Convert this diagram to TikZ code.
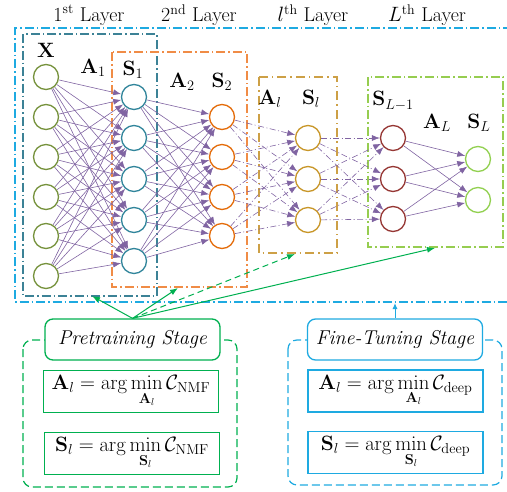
\documentclass[tikz,border=0pt]{standalone}
\usepackage{amsmath}
\usetikzlibrary{arrows.meta}
\definecolor{cX}{RGB}{118,146,60}
\definecolor{cSone}{RGB}{49,133,155}
\definecolor{cStwo}{RGB}{228,108,10}
\definecolor{cSl}{RGB}{200,150,40}
\definecolor{cSLm}{RGB}{150,55,52}
\definecolor{cSL}{RGB}{146,208,80}
\definecolor{cOuter}{RGB}{30,170,225}
\definecolor{cBoxOne}{RGB}{60,130,150}
\definecolor{cBoxTwo}{RGB}{240,140,70}
\definecolor{cBoxl}{RGB}{205,160,70}
\definecolor{cBoxL}{RGB}{150,205,80}
\definecolor{cEdge}{RGB}{128,100,162}
\definecolor{cGreen}{RGB}{0,176,80}
\definecolor{cBlue}{RGB}{30,170,225}
\begin{document}
\begin{tikzpicture}[x=1pt,y=-1pt,font=\fontsize{20}{24}\selectfont,
  neuron/.style={circle,draw,fill=white,line width=1.3pt,minimum size=25pt,inner sep=0pt},
  layerbox/.style={line width=1.2pt,dash pattern=on 9pt off 3pt on 1.5pt off 3pt},
  conn/.style={draw=cEdge,line width=0.6pt,-{Latex[length=8pt,width=6pt]}},
  dconn/.style={conn,dash pattern=on 6pt off 2.5pt on 1pt off 2.5pt},
  garrow/.style={draw=cGreen,line width=1pt,-{Latex[length=8pt,width=6pt]}},
  eqbox/.style={draw,line width=1.5pt,minimum width=175pt,minimum height=42pt,inner sep=1pt},
  stagebox/.style={draw,fill=white,rounded corners=8pt,line width=1.3pt,minimum width=175pt,minimum height=41pt,font=\fontsize{20}{24}\selectfont\itshape},
  stageframe/.style={rounded corners=9pt,line width=1.2pt,dash pattern=on 8pt off 4pt},
  lbl/.style={inner sep=0pt}]
\useasboundingbox (0,0) rectangle (507,491);
% header labels
\node[lbl] (h1) at (89,15) {1\textsuperscript{st} Layer};
\node[lbl] (h2) at (199,15) {2\textsuperscript{nd} Layer};
\node[lbl] (h3) at (313,15) {$l$\textsuperscript{th} Layer};
\node[lbl] (h4) at (427,15) {$L$\textsuperscript{th} Layer};
% boxes
\draw[layerbox,cOuter] (512,28) -- (15,28) -- (15,302) -- (512,302);
\draw[layerbox,cBoxOne] (23,34) rectangle (157,296);
\draw[layerbox,cBoxTwo] (112,52) rectangle (247,287);
\draw[layerbox,cBoxl,dash pattern=on 9pt off 4pt on 1.5pt off 4pt] (259,77) rectangle (337,253);
\draw[layerbox,cBoxL] (368,77) rectangle (503,247);
\coordinate (t1) at (92,296);
\coordinate (t2) at (178,288);
\coordinate (t3) at (295,254);
\coordinate (t4) at (435,248);
\coordinate (t5) at (395,303);
% nodes
\foreach \i/\y in {1/77,2/117,3/157,4/197,5/236,6/276}
  \node[neuron,draw=cX] (x\i) at (46,\y) {};
\foreach \i/\y in {1/97,2/138,3/179,4/220,5/261}
  \node[neuron,draw=cSone] (a\i) at (134,\y) {};
\foreach \i/\y in {1/117,2/157,3/197,4/236}
  \node[neuron,draw=cStwo] (b\i) at (222,\y) {};
\foreach \i/\y in {1/138,2/179,3/220}
  \node[neuron,draw=cSl] (c\i) at (308,\y) {};
\foreach \i/\y in {1/138,2/179,3/219}
  \node[neuron,draw=cSLm] (d\i) at (393,\y) {};
\foreach \i/\y in {1/159,2/200}
  \node[neuron,draw=cSL] (e\i) at (478,\y) {};
% connections
\foreach \i in {1,...,6} \foreach \j in {1,...,5} \draw[conn] (x\i) -- (a\j);
\foreach \i in {1,...,5} \foreach \j in {1,...,4} \draw[conn] (a\i) -- (b\j);
\foreach \i in {1,...,4} \foreach \j in {1,...,3} \draw[dconn] (b\i) -- (c\j);
\foreach \i in {1,...,3} \foreach \j in {1,...,3} \draw[dconn] (c\i) -- (d\j);
\foreach \i in {1,...,3} \foreach \j in {1,...,2} \draw[conn] (d\i) -- (e\j);
% labels
\node[lbl] (lX) at (46,50) {$\mathbf{X}$};
\node[lbl] (lA1) at (93,68) {$\mathbf{A}_1$};
\node[lbl] (lS1) at (133,70) {$\mathbf{S}_1$};
\node[lbl] (lA2) at (182,82) {$\mathbf{A}_2$};
\node[lbl] (lS2) at (222,82) {$\mathbf{S}_2$};
\node[lbl] (lAl) at (270,99) {$\mathbf{A}_l$};
\node[lbl] (lSl) at (311,99) {$\mathbf{S}_l$};
\node[lbl] (lSLm) at (393,101) {$\mathbf{S}_{L-1}$};
\node[lbl] (lAL) at (437,123) {$\mathbf{A}_L$};
\node[lbl] (lSL) at (479,123) {$\mathbf{S}_L$};
% stage frames
\draw[stageframe,cGreen] (23,340) rectangle (237,487);
\draw[stageframe,cBlue] (288,340) rectangle (502,485);
\node[stagebox,draw=cGreen] (pre) at (132.5,339.5) {Pretraining Stage};
\node[stagebox,draw=cBlue] (fine) at (395,339.5) {Fine-Tuning Stage};
\node[eqbox,draw=cGreen] (pa) at (131,391.5) {$\displaystyle\mathbf{A}_l=\arg\min_{\mathbf{A}_l}\mathcal{C}_{\mathrm{NMF}}$};
\node[eqbox,draw=cGreen] (ps) at (132,453.5) {$\displaystyle\mathbf{S}_l=\arg\min_{\mathbf{S}_l}\mathcal{C}_{\mathrm{NMF}}$};
\node[eqbox,draw=cBlue] (fa) at (395.5,391) {$\displaystyle\mathbf{A}_l=\arg\min_{\mathbf{A}_l}\mathcal{C}_{\mathrm{deep}}$};
\node[eqbox,draw=cBlue] (fs) at (395.5,452.5) {$\displaystyle\mathbf{S}_l=\arg\min_{\mathbf{S}_l}\mathcal{C}_{\mathrm{deep}}$};
% stage arrows
\draw[garrow] (pre.north) -- (t1);
\draw[garrow] (pre.north) -- (t2);
\draw[garrow,dash pattern=on 6pt off 4pt] (pre.north) -- (t3);
\draw[garrow] (pre.north) -- (t4);
\draw[draw=cBlue,line width=1pt,-{Latex[length=6pt,width=5pt]}] (fine.north) -- (t5);
\end{tikzpicture}
\end{document}
